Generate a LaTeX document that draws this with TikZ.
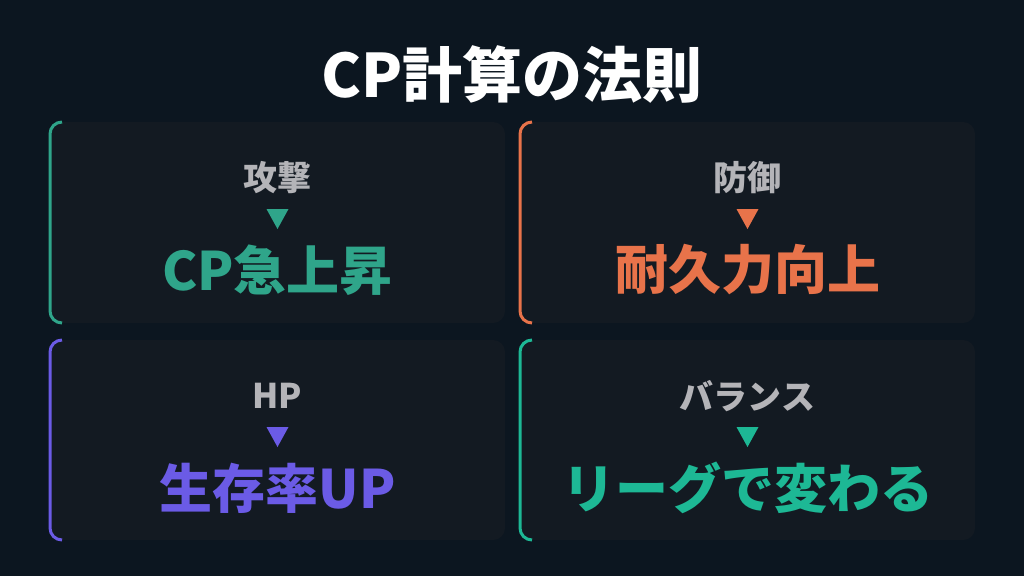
\documentclass[tikz,border=0pt]{standalone}
\usepackage{fontspec}
\setmainfont{Noto Sans CJK JP}
\begin{document}
\begin{tikzpicture}[x=1pt,y=-1pt,
  lbl/.style={text=labelgray,font=\bfseries\fontsize{34}{38}\selectfont,anchor=center},
  big/.style={font=\bfseries\fontsize{53}{60}\selectfont,anchor=center}]
\definecolor{bg}{HTML}{0C1620}
\definecolor{cardbg}{HTML}{131A22}
\definecolor{labelgray}{HTML}{B4B4B8}
\definecolor{cteal}{HTML}{2FA58A}
\definecolor{corange}{HTML}{E8734A}
\definecolor{cpurple}{HTML}{6B5BE6}
\definecolor{cgreen}{HTML}{1DB895}
\fill[bg] (0,0) rectangle (1024,576);
\useasboundingbox (0,0) rectangle (1024,576);
\node[text=white,font=\bfseries\fontsize{60}{66}\selectfont] (title) at (512,74) {CP計算の法則};
\newcommand\card[7]{% x1 y1 x2 y2 color label big
  \fill[cardbg,rounded corners=12] (#1,#2) rectangle (#3,#4);
  \draw[#5,line width=3] (#1+12,#2) arc[start angle=270,end angle=180,radius=12] -- (#1,#4-12) arc[start angle=180,end angle=90,radius=12];
  \node[lbl] at ({(#1+#3)/2},#2+56) {#6};
  \fill[#5] ({(#1+#3)/2-11},#2+87) -- ({(#1+#3)/2+11},#2+87) -- ({(#1+#3)/2},#2+107) -- cycle;
  \node[big,text=#5] at ({(#1+#3)/2},#2+148) {#7};
}
\card{50}{122}{505}{323}{cteal}{攻撃}{CP急上昇}
\card{520}{122}{975}{323}{corange}{防御}{耐久力向上}
\card{50}{340}{505}{540}{cpurple}{HP}{生存率UP}
\card{520}{340}{975}{540}{cgreen}{バランス}{リーグで変わる}
\end{tikzpicture}
\end{document}
